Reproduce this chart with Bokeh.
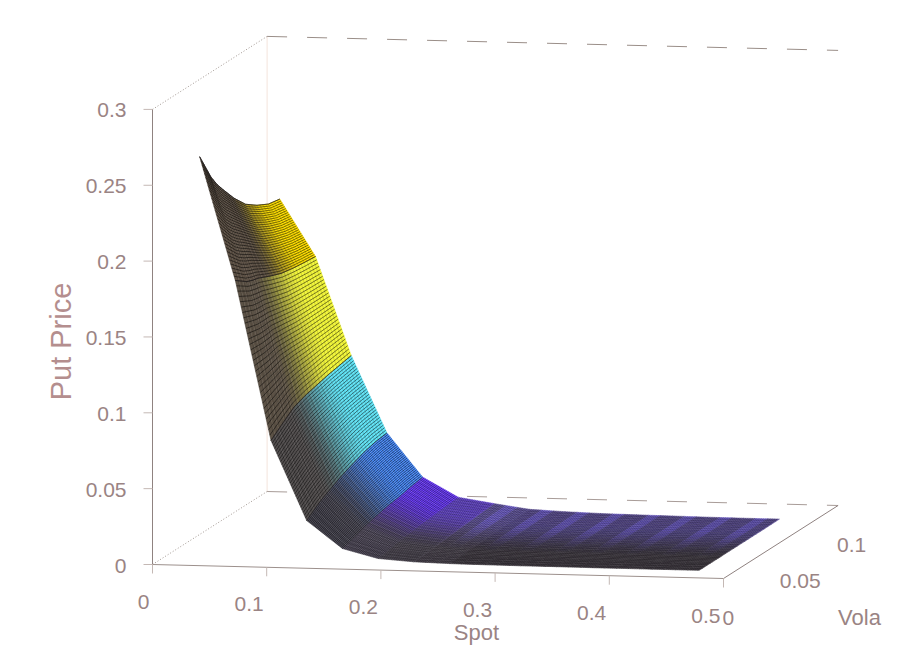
from bokeh.plotting import figure
from bokeh.models import Range1d
from bokeh.embed import file_html
from bokeh.resources import INLINE
from bokeh.core.properties import value
import math

# ---- data ----
spot = [0.03125, 0.0625, 0.09375, 0.125, 0.15625, 0.1875, 0.21875, 0.25,
        0.28125, 0.3125, 0.34375, 0.375, 0.40625, 0.4375, 0.46875]
vola = [0.01, 0.02, 0.025, 0.03, 0.04, 0.05, 0.06, 0.07, 0.08]
put_s01 = [0.2646, 0.2462, 0.2392, 0.2335, 0.2228, 0.2140, 0.2085, 0.2045, 0.2030]
put_s02 = [0.1836, 0.1780, 0.1765, 0.1755, 0.1720, 0.1690, 0.1675, 0.1665, 0.1657]
put_s03 = [0.0787, 0.0850, 0.0880, 0.0910, 0.0940, 0.0960, 0.0980, 0.0995, 0.1010]
put_s04 = [0.0265, 0.0325, 0.0350, 0.0370, 0.0412, 0.0445, 0.0475, 0.0495, 0.0506]
put_s05 = [0.0086, 0.0110, 0.0125, 0.0140, 0.0160, 0.0178, 0.0190, 0.0208, 0.0220]
put_s06 = [0.0026, 0.0038, 0.0045, 0.0052, 0.0063, 0.0072, 0.0080, 0.0087, 0.0093]
put_s07 = [0.0010, 0.0015, 0.0018, 0.0022, 0.0030, 0.0038, 0.0045, 0.0052, 0.0057]
put_s08 = [0.0004, 0.0007, 0.0008, 0.0010, 0.0014, 0.0018, 0.0021, 0.0023, 0.0025]
put_s09 = [0.0002, 0.0003, 0.0004, 0.0005, 0.0007, 0.0009, 0.0011, 0.0013, 0.0015]
put_s10 = [0.0001, 0.0002, 0.0002, 0.0003, 0.0004, 0.0005, 0.0006, 0.0008, 0.0009]
put_s11 = [0.0001, 0.0001, 0.0001, 0.0002, 0.0002, 0.0003, 0.0004, 0.0005, 0.0006]
put_s12 = [0.0, 0.0001, 0.0001, 0.0001, 0.0001, 0.0002, 0.0002, 0.0003, 0.0004]
put_s13 = [0.0, 0.0, 0.0, 0.0001, 0.0001, 0.0001, 0.0001, 0.0002, 0.0002]
put_s14 = [0.0, 0.0, 0.0, 0.0, 0.0, 0.0001, 0.0001, 0.0001, 0.0001]
put_s15 = [0.0, 0.0, 0.0, 0.0, 0.0, 0.0, 0.0, 0.0, 0.0001]
put = [put_s01, put_s02, put_s03, put_s04, put_s05, put_s06, put_s07, put_s08,
       put_s09, put_s10, put_s11, put_s12, put_s13, put_s14, put_s15]
price_ticks = [0, 0.05, 0.1, 0.15, 0.2, 0.25, 0.3]
price_labels = ["0", "0.05", "0.1", "0.15", "0.2", "0.25", "0.3"]
spot_ticks = [0, 0.1, 0.2, 0.3, 0.4, 0.5]
spot_labels = ["0", "0.1", "0.2", "0.3", "0.4", "0.5"]
vola_ticks = [0, 0.05, 0.1]
vola_labels = ["0", "0.05", "0.1"]
lit = ["#ffe000", "#f2f63a", "#62e4f6", "#4e90ff", "#7040ff", "#7a58ec",
       "#7464cc", "#7060c8", "#7060c8", "#7060c8", "#7060c8", "#7060c8", "#7060c8", "#7060c8"]
dim = ["#5e5246", "#5c5246", "#545050", "#504e5a", "#565060", "#5a5460",
       "#4c4650", "#443e46", "#443e46", "#443e46", "#443e46", "#443e46", "#443e46", "#443e46"]
AXIS = "#8f8280"
TEXT = "#9a8484"


def px(s, v, z):
    return 152 + 1142 * s + 1146 * v, 564 + 28 * s - 730 * v - 1517 * z


def mix(a, b, t):
    ca = [int(a[i:i + 2], 16) for i in (1, 3, 5)]
    cb = [int(b[i:i + 2], 16) for i in (1, 3, 5)]
    return "#%02x%02x%02x" % tuple(round(p + (q - p) * t) for p, q in zip(ca, cb))


def light(v, low, high):
    t = min(1, max(0, (v - low) / (high - low)))
    return t * t * (3 - 2 * t)


def corner(i, f, j, g):
    """A point on the flat facet between the table's rows i,i+1 and columns j,j+1."""
    s = spot[i] + (spot[i + 1] - spot[i]) * f
    v = vola[j] + (vola[j + 1] - vola[j]) * g
    a = put[i][j] + (put[i][j + 1] - put[i][j]) * g
    b = put[i + 1][j] + (put[i + 1][j + 1] - put[i + 1][j]) * g
    return px(s, v, a + (b - a) * f)


p = figure(width=901, height=654, output_backend="svg", toolbar_location=None,
           x_range=Range1d(0, 901), y_range=Range1d(654, 0), min_border=0,
           outline_line_color=None, background_fill_color="white")
p.axis.visible = False
p.grid.visible = False


def seg(a, b, color=AXIS, width=1.0, dash="solid", alpha=1.0):
    x0, y0 = px(*a)
    x1, y1 = px(*b)
    p.line([x0, x1], [y0, y1], line_color=color, line_width=width, line_dash=dash, line_alpha=alpha)


S1, V1, Z1 = 0.5, 0.1, 0.3
# back walls first
seg((0, V1, 0), (0, V1, Z1), "#f4e4dc", 1)
seg((0, V1, Z1), (S1, V1, Z1), "#9a8e88", 1, "20 20")
seg((0, V1, 0), (S1, V1, 0), "#a89c98", 1, "20 20")
seg((0, 0, Z1), (0, V1, Z1), "#a09690", 1, "1 2")
seg((0, 0, 0), (0, V1, 0), "#a09690", 1, "1 2")
seg((0, 0, 0), (0, 0, Z1), AXIS, 1)
seg((0, 0, 0), (S1, 0, 0), "#9c908c", 1)
seg((S1, 0, 0), (S1, V1, 0), AXIS, 1)

for t in price_ticks:
    x, y = px(0, 0, t)
    p.line([x - 9, x], [y, y], line_color="#c4b8b4", line_width=1)
for t in spot_ticks:
    x, y = px(t, 0, 0)
    p.line([x, x], [y, y + 9], line_color="#c4b8b4", line_width=1)

# surface: coloured facets, back to front
xs, ys, cols = [], [], []
SUB = 3
for i in range(len(spot) - 2, -1, -1):
    FSUB = 3 if i >= 6 else 1
    for j in range(len(vola) - 2, -1, -1):
        for k in range(SUB - 1, -1, -1):
            for m in range(FSUB):
                g0, g1 = k / SUB, (k + 1) / SUB
                f0, f1 = m / FSUB, (m + 1) / FSUB
                pts = [corner(i, f0, j, g0), corner(i, f1, j, g0), corner(i, f1, j, g1), corner(i, f0, j, g1)]
                v = vola[j] + (vola[j + 1] - vola[j]) * (g0 + g1) / 2
                low, high = (0.035, 0.07) if i == 0 else (0.025, 0.065)
                t = light(v, low, high)
                if i >= 6:
                    t *= 0.25 + 0.75 * math.sin(math.pi * (f0 + f1) / 2)
                xs.append([q[0] for q in pts])
                ys.append([q[1] for q in pts])
                cols.append(mix(dim[i], lit[i], t))
p.patches(xs, ys, fill_color=cols, line_color=cols, line_width=0.5)


def arcs(bands, fine):
    mx, my = [], []
    for i in bands:
        for n in range(fine):
            f = n / fine
            row = [corner(i, f, j, 0) for j in range(len(vola) - 1)] + [corner(i, f, len(vola) - 2, 1)]
            mx.append([q[0] for q in row])
            my.append([q[1] for q in row])
    return mx, my


# mesh lines lying on the facets: across the vola direction ...
near_x, near_y = arcs(range(0, 4), 30)
p.multi_line(near_x, near_y, line_color="#000000", line_width=1.0, line_alpha=0.5)
mid_x, mid_y = arcs(range(4, 6), 22)
p.multi_line(mid_x, mid_y, line_color="#000000", line_width=0.9, line_alpha=0.42)
far_x, far_y = arcs(range(6, len(spot) - 1), 16)
p.multi_line(far_x, far_y, line_color="#000000", line_width=0.8, line_alpha=0.34)

# ... and along the spot direction
nx, ny = [], []
for j in range(len(vola) - 1):
    per = round((vola[j + 1] - vola[j]) / 0.0025)
    for n in range(per):
        g = n / per
        row = [corner(i, 0, j, g) for i in range(len(spot) - 1)] + [corner(len(spot) - 2, 1, j, g)]
        nx.append([q[0] for q in row])
        ny.append([q[1] for q in row])
p.multi_line(nx, ny, line_color="#000000", line_width=0.6, line_alpha=0.22)

# band edges
for i in range(5):
    q = [px(spot[i], vola[j], put[i][j]) for j in range(len(vola))]
    p.line([a[0] for a in q], [a[1] for a in q], line_color="#201c20", line_width=0.8, line_alpha=0.6)

font = value("Liberation Sans")


def labels(x, y, texts, size, align="center", angle=0.0, color=TEXT):
    p.text(x, y, text=texts, text_font=font, text_font_size=size, text_color=color,
           text_align=align, text_baseline="middle", angle=angle)


labels([px(0, 0, t)[0] - 26 for t in price_ticks], [px(0, 0, t)[1] + 1 for t in price_ticks],
       price_labels, "21px", "right")
labels([px(t, 0, 0)[0] - 3 for t in spot_ticks], [px(t, 0, 0)[1] + 37 for t in spot_ticks],
       spot_labels, "21px", "right")
labels([px(S1, t, 0)[0] - 1 for t in vola_ticks], [px(S1, t, 0)[1] + 39 for t in vola_ticks],
       vola_labels, "21px", "left")
labels([476], [632], ["Spot"], "22px")
labels([859], [617], ["Vola"], "22px")
labels([60], [341], ["Put Price"], "29px", "center", math.pi / 2, "#b48e8e")

open("out.html", "w").write(file_html(p, INLINE))
